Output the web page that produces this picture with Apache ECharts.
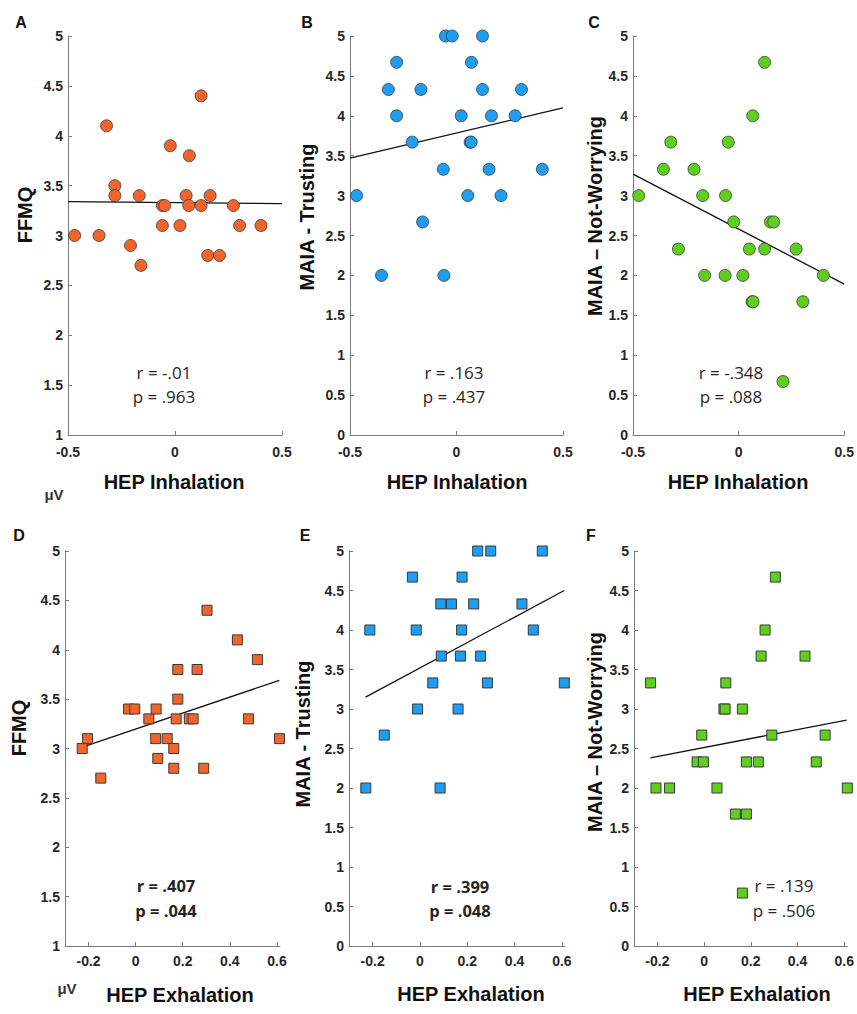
<!DOCTYPE html>
<html>
<head>
<meta charset="utf-8">
<script src="https://cdn.jsdelivr.net/npm/echarts@6/dist/echarts.min.js"></script>
<style>html,body{margin:0;padding:0;background:#fff}#c{width:857px;height:1014px}</style>
</head>
<body>
<div id="c"></div>
<script>
// ---- Data ----
const A_x = [-0.469,-0.355,-0.320,-0.281,-0.281,-0.208,-0.167,-0.159,-0.059,-0.048,-0.059,-0.022,0.023,0.052,0.064,0.067,0.122,0.122,0.164,0.153,0.208,0.273,0.302,0.402];
const A_y = [3.0,3.0,4.1,3.5,3.4,2.9,3.4,2.7,3.3,3.3,3.1,3.9,3.1,3.4,3.3,3.8,4.4,3.3,3.4,2.8,2.8,3.3,3.1,3.1];

const B_x = [-0.469,-0.352,-0.320,-0.281,-0.281,-0.208,-0.167,-0.159,-0.062,-0.059,-0.052,-0.020,0.022,0.053,0.070,0.064,0.069,0.122,0.122,0.153,0.164,0.209,0.275,0.305,0.403];
const B_y = [3.0,2.0,4.33,4.67,4.0,3.67,4.33,2.67,3.33,2.0,5.0,5.0,4.0,3.0,4.67,3.67,3.67,5.0,4.33,3.33,4.0,3.0,4.0,4.33,3.33];

const C_x = [-0.473,-0.356,-0.321,-0.285,-0.211,-0.170,-0.161,-0.064,-0.062,-0.049,-0.023,0.020,0.051,0.064,0.068,0.067,0.123,0.123,0.151,0.166,0.210,0.272,0.304,0.401];
const C_y = [3.0,3.33,3.67,2.33,3.33,3.0,2.0,2.0,3.0,3.67,2.67,2.0,2.33,1.67,1.67,4.0,4.67,2.33,2.67,2.67,0.67,2.33,1.67,2.0];

const D_x = [-0.227,-0.204,-0.148,-0.030,-0.004,0.056,0.087,0.085,0.094,0.134,0.162,0.162,0.172,0.179,0.179,0.228,0.244,0.261,0.289,0.303,0.432,0.479,0.517,0.611];
const D_y = [3.0,3.1,2.7,3.4,3.4,3.3,3.4,3.1,2.9,3.1,3.0,2.8,3.3,3.5,3.8,3.3,3.3,3.8,2.8,4.4,4.1,3.3,3.9,3.1];

const E_x = [-0.229,-0.212,-0.151,-0.032,-0.016,-0.010,0.054,0.085,0.088,0.090,0.133,0.161,0.171,0.176,0.178,0.227,0.244,0.256,0.285,0.299,0.431,0.479,0.517,0.610];
const E_y = [2.0,4.0,2.67,4.67,4.0,3.0,3.33,2.0,4.33,3.67,4.33,3.0,3.67,4.0,4.67,4.33,5.0,3.67,3.33,5.0,4.33,4.0,5.0,3.33];

const F_x = [-0.229,-0.206,-0.148,-0.030,-0.003,-0.010,0.055,0.085,0.090,0.093,0.134,0.164,0.164,0.181,0.181,0.232,0.244,0.261,0.290,0.305,0.432,0.480,0.518,0.613];
const F_y = [3.33,2.0,2.0,2.33,2.33,2.67,2.0,3.0,3.0,3.33,1.67,3.0,0.67,1.67,2.33,2.33,3.67,4.0,2.67,4.67,3.67,2.33,2.67,2.0];

// regression line end points
const fitA_x = [-0.5, 0.5],  fitA_y = [3.34, 3.32];
const fitB_x = [-0.5, 0.5],  fitB_y = [3.47, 4.10];
const fitC_x = [-0.5, 0.5],  fitC_y = [3.27, 1.89];
const fitD_x = [-0.22, 0.61], fitD_y = [3.02, 3.69];
const fitE_x = [-0.23, 0.61], fitE_y = [3.15, 4.50];
const fitF_x = [-0.23, 0.61], fitF_y = [2.38, 2.86];

const panelLetters = ['A','B','C','D','E','F'];
const yTitles = ['FFMQ','MAIA - Trusting','MAIA \u2013 Not-Worrying','FFMQ','MAIA - Trusting','MAIA \u2013 Not-Worrying'];
const xTitles = ['HEP Inhalation','HEP Inhalation','HEP Inhalation','HEP Exhalation','HEP Exhalation','HEP Exhalation'];
const rTexts = ['r = -.01','r = .163','r = -.348','r = .407','r = .399','r = .139'];
const pTexts = ['p = .963','p = .437','p = .088','p = .044','p = .048','p = .506'];
const statBold = [false,false,false,true,true,false];
const topXTicks = [-0.5, 0, 0.5];
const botXTicks = [-0.2, 0, 0.2, 0.4, 0.6];

// ---- Layout / style ----
const ORANGE = '#F2652A', BLUE = '#1E9EF2', GREEN = '#5DCF1C';
const colors = [ORANGE, BLUE, GREEN, ORANGE, BLUE, GREEN];
const grids = [
  {left:68, top:36, width:214, height:399},
  {left:350, top:36, width:213, height:399},
  {left:633, top:36, width:212, height:399},
  {left:65, top:551, width:215, height:395},
  {left:349, top:551, width:216, height:395},
  {left:634, top:551, width:214, height:395}
];
const yMin = [1,0,0,1,0,0];
const AX = '#7a7a7a', TXT = '#262626';
const xs = [A_x,B_x,C_x,D_x,E_x,F_x], ys = [A_y,B_y,C_y,D_y,E_y,F_y];
const fx = [fitA_x,fitB_x,fitC_x,fitD_x,fitE_x,fitF_x], fy = [fitA_y,fitB_y,fitC_y,fitD_y,fitE_y,fitF_y];

const xAxis = [], yAxis = [], series = [];
for (let i = 0; i < 6; i++) {
  const top = i < 3;
  const xa = {
    type:'value', gridIndex:i,
    min: top ? -0.5 : -0.3, max: top ? 0.5 : 0.613,
    splitLine:{show:false},
    axisLine:{show:true, onZero:false, lineStyle:{color:AX, width:1}},
    axisTick:{show:true, inside:true, length:4, lineStyle:{color:AX}},
    axisLabel:{color:TXT, fontFamily:'Liberation Sans', fontWeight:'bold', fontSize:14, margin: top ? 10 : 8,
      formatter: v => String(Math.round(v*10)/10)}
  };
  if (top) { xa.interval = 0.5; }
  else {
    xa.axisLabel.customValues = botXTicks;
    xa.axisTick.customValues = botXTicks;
  }
  xAxis.push(xa);
  yAxis.push({
    type:'value', gridIndex:i, min:yMin[i], max:5, interval:0.5,
    splitLine:{show:false},
    axisLine:{show:true, onZero:false, lineStyle:{color:AX, width:1}},
    axisTick:{show:true, inside:true, length:4, lineStyle:{color:AX}},
    axisLabel:{color:TXT, fontFamily:'Liberation Sans', fontWeight:'bold', fontSize:14, margin:5}
  });
  series.push({
    type:'line', xAxisIndex:i, yAxisIndex:i, symbol:'none', silent:true, z:3,
    lineStyle:{color:'#111', width:1.3},
    data: fx[i].map((v,k)=>[v, fy[i][k]])
  });
  series.push({
    type:'scatter', xAxisIndex:i, yAxisIndex:i, z:4,
    symbol: top ? 'circle' : 'rect', symbolSize: top ? 12 : 10,
    itemStyle:{color:colors[i], borderColor:'#3a3a3a', borderWidth: top ? 0.8 : 1, opacity:1},
    data: xs[i].map((v,k)=>[v, ys[i][k]])
  });
}

// text positions
const letterPos = [[21,22],[307,22],[594,22],[19,535],[305,535],[591,535]];
const yTitlePos = [[25,215],[307,217],[595,216],[19,728],[303,734],[595,732]];
const xTitlePos = [[174,482],[457,482],[738,482],[180,995],[471,994],[757,994]];
const statPos = [[164,372,396],[454,372,396],[731,372,396],[166,885,910],[460,886,910],[784,885,910]];

const graphic = [];
for (let i = 0; i < 6; i++) {
  graphic.push({type:'text', x:letterPos[i][0], y:letterPos[i][1],
    style:{text:panelLetters[i], font:'bold 16px "Liberation Sans"', fill:'#111', align:'center', verticalAlign:'middle'}});
  graphic.push({type:'text', x:yTitlePos[i][0], y:yTitlePos[i][1], rotation:Math.PI/2,
    style:{text:yTitles[i], font:'bold 20px "Liberation Sans"', fill:'#111', align:'center', verticalAlign:'middle'}});
  graphic.push({type:'text', x:xTitlePos[i][0], y:xTitlePos[i][1],
    style:{text:xTitles[i], font:'bold 20px "Liberation Sans"', fill:'#111', align:'center', verticalAlign:'middle'}});
  const f = statBold[i] ? 'bold 16.5px "Open Sans"' : '17px "Open Sans"';
  graphic.push({type:'text', x:statPos[i][0], y:statPos[i][1],
    style:{text:rTexts[i], font:f, fill:TXT, align:'center', verticalAlign:'middle'}});
  graphic.push({type:'text', x:statPos[i][0], y:statPos[i][2],
    style:{text:pTexts[i], font:f, fill:TXT, align:'center', verticalAlign:'middle'}});
}
graphic.push({type:'text', x:54, y:494, style:{text:'\u03bcV', font:'bold 15px "Liberation Sans"', fill:'#333', align:'center', verticalAlign:'middle'}});
graphic.push({type:'text', x:67, y:988, style:{text:'\u03bcV', font:'bold 15px "Liberation Sans"', fill:'#333', align:'center', verticalAlign:'middle'}});

const chart = echarts.init(document.getElementById('c'), null, {renderer:'svg'});
chart.setOption({
  animation:false,
  backgroundColor:'#fff',
  grid: grids,
  xAxis, yAxis, series, graphic
});
</script>
</body>
</html>
